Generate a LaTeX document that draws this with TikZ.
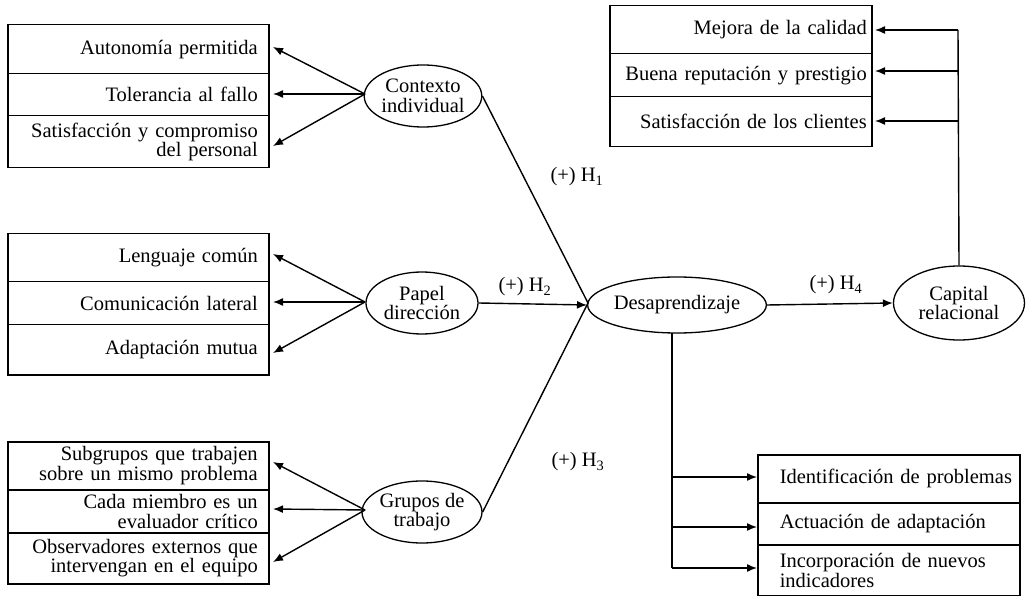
\documentclass[tikz,border=0pt]{standalone}
\usepackage{fontspec}
\setmainfont{Liberation Serif}
\usetikzlibrary{shapes.geometric,arrows.meta}
\begin{document}
\begin{tikzpicture}[x=1pt,y=-1pt,
  every node/.style={font=\fontsize{20.5pt}{19.5pt}\selectfont},
  cellbase/.style={draw, line width=1.5pt, rectangle, anchor=north west, inner ysep=0pt},
  lcell/.style={cellbase, text width=239pt, inner xsep=11pt, align=right},
  tcell/.style={cellbase, text width=252pt, inner xsep=5pt, align=right},
  bcell/.style={cellbase, text width=251pt, inner xsep=5.5pt, align=left},
  oval/.style={draw, line width=1.3pt, ellipse, inner sep=0pt, align=center},
  conn/.style={line width=1.4pt},
  arr/.style={conn, -{Latex[length=10pt,width=8pt]}},
  hlab/.style={inner sep=0pt}
]
\useasboundingbox (0,0) rectangle (1029,596);

% left boxes: Contexto individual
\node[lcell, minimum height=49pt] (c1) at (7,24) {Autonomía permitida};
\node[lcell, minimum height=42pt] (c2) at (7,73) {Tolerancia al fallo};
\node[lcell, minimum height=52pt] (c3) at (7,115) {Satisfacción y compromiso\\del personal};

% left boxes: Papel dirección
\node[lcell, minimum height=48pt] (p1) at (7,233) {Lenguaje común};
\node[lcell, minimum height=43pt] (p2) at (7,281) {Comunicación lateral};
\node[lcell, minimum height=50pt] (p3) at (7,324) {Adaptación mutua};

% left boxes: Grupos de trabajo
\node[lcell, minimum height=48pt] (g1) at (7,441) {Subgrupos que trabajen\\sobre un mismo problema};
\node[lcell, minimum height=43pt] (g2) at (7,489) {Cada miembro es un\\evaluador crítico};
\node[lcell, minimum height=51pt] (g3) at (7,532) {Observadores externos que\\intervengan en el equipo};

% top right boxes
\node[tcell, minimum height=48pt] (r1) at (609,5) {Mejora de la calidad};
\node[tcell, minimum height=43pt] (r2) at (609,53) {Buena reputación y prestigio};
\node[tcell, minimum height=50pt] (r3) at (609,96) {Satisfacción de los clientes};

% bottom right boxes
\node[bcell, minimum height=48pt] (d1) at (757,454) {\hspace*{16.5pt}Identificación de problemas};
\node[bcell, minimum height=42pt] (d2) at (757,502) {\hspace*{16.5pt}Actuación de adaptación};
\node[bcell, minimum height=51pt] (d3) at (757,544) {\hspace*{16.5pt}Incorporación de nuevos\\\hspace*{16.5pt}indicadores};

% ellipses
\node[oval, minimum width=114pt, minimum height=62pt] (ctx) at (423,96) {Contexto\\individual};
\node[oval, minimum width=112pt, minimum height=62pt] (pap) at (422,303) {Papel\\dirección};
\node[oval, minimum width=114pt, minimum height=62pt] (gru) at (422,512) {Grupos de\\trabajo};
\node[oval, minimum width=160pt, minimum height=56pt] (des) at (677,305) {Desaprendizaje};
\node[oval, minimum width=131pt, minimum height=74pt] (cap) at (959,303) {Capital\\relacional};

% coordinates
\coordinate (ctxo) at (365,94);
\coordinate (papo) at (365,302);
\coordinate (gruo) at (365,510);
\coordinate (conv) at (588,303);
\coordinate (vtop) at (958,30);
\coordinate (vdes) at (672,333);
\coordinate (vbot) at (672,568);

% arrows to left boxes
\draw[arr] (ctxo) -- (273,47);
\draw[arr] (ctxo) -- (273,94);
\draw[arr] (ctxo) -- (273,146);
\draw[arr] (papo) -- (273,254);
\draw[arr] (papo) -- (273,302);
\draw[arr] (papo) -- (273,353);
\draw[arr] (gruo) -- (273,462);
\draw[arr] (gruo) -- (273,509);
\draw[arr] (gruo) -- (273,562);

% hypotheses
\draw[conn] (ctx.east) -- (conv);
\draw[conn] (gru.east) -- (conv);
\draw[arr] (pap.east) -- (des.west);
\draw[arr] (des.east) -- (cap.west);

% capital to top-right boxes
\draw[conn] (cap.north) -- (vtop);
\draw[arr] (vtop) -- (875,30);
\draw[arr] (958,71) -- (875,71);
\draw[arr] (958,121) -- (875,121);

% desaprendizaje to bottom-right boxes
\draw[conn] (vdes) -- (vbot);
\draw[arr] (672,477) -- (d1.west |- 0,477);
\draw[arr] (672,527) -- (d2.west |- 0,527);
\draw[arr] (vbot) -- (d3.west |- 0,568);

% labels
\node[hlab] (h1) at (577,177) {(+) H\textsubscript{1}};
\node[hlab] (h2) at (525,287) {(+) H\textsubscript{2}};
\node[hlab] (h3) at (578,462) {(+) H\textsubscript{3}};
\node[hlab] (h4) at (836,285) {(+) H\textsubscript{4}};
\end{tikzpicture}
\end{document}
